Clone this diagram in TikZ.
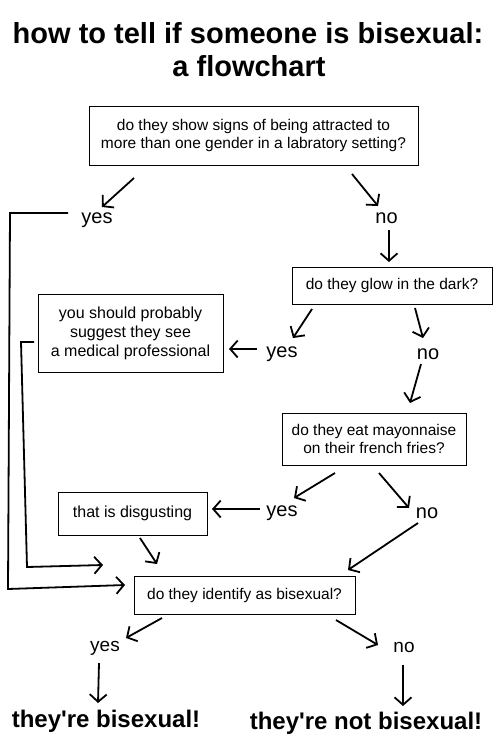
\documentclass[tikz,border=0pt]{standalone}
\usepackage{fontspec}
\setmainfont{Liberation Sans}[Ligatures=TeXOff]
\usetikzlibrary{arrows.meta}
\begin{document}
\begin{tikzpicture}[x=1pt,y=-1pt,
  box/.style={draw, line width=1pt, inner sep=0pt, align=center, font=\fontsize{15.5}{18}\selectfont},
  lbl/.style={font=\fontsize{20}{24}\selectfont, anchor=base, inner sep=0pt},
  ttl/.style={font=\fontsize{29}{33}\selectfont\bfseries, anchor=base, inner sep=0pt},
  fin/.style={font=\fontsize{24}{28}\selectfont\bfseries, anchor=base, inner sep=0pt},
  arr/.style={line width=1.8pt, -{Straight Barb[length=7.5pt,width=17pt]}},
  loop/.style={line width=1.8pt, -{Straight Barb[length=7.5pt,width=17pt]}}]
\useasboundingbox (0,0) rectangle (500,750);
\fill[white] (0,0) rectangle (500,750);
% title
\node[ttl] (t1) at (248,43) {how to tell if someone is bisexual:};
\node[ttl] (t2) at (249,76) {a flowchart};
% boxes
\node[box, minimum width=329pt, minimum height=59pt] (b1) at (253.5,135.5)
  {do they show signs of being attracted to\\more than one gender in a labratory setting?};
\node[box, minimum width=200pt, minimum height=37pt] (b2) at (392,285.5) {do they glow in the dark?};
\node[box, minimum width=185pt, minimum height=78pt, font=\fontsize{16}{19}\selectfont] (b3) at (130.5,333)
  {you should probably\\suggest they see\\a medical professional};
\node[box, minimum width=184pt, minimum height=52pt, font=\fontsize{15.5}{17.5}\selectfont] (b4) at (374,439)
  {do they eat mayonnaise\\on their french fries?};
\node[box, minimum width=149pt, minimum height=43pt, font=\fontsize{16}{19}\selectfont] (b5) at (132.5,513.5) {that is disgusting};
\node[box, minimum width=221pt, minimum height=38pt] (b6) at (244.5,595) {do they identify as bisexual?};
% labels
\node[lbl] (y1) at (97,223) {yes};
\node[lbl] (n1) at (386.5,223) {no};
\node[lbl] (y2) at (282,357) {yes};
\node[lbl] (n2) at (428,359) {no};
\node[lbl] (y3) at (282,516) {yes};
\node[lbl] (n3) at (427,518) {no};
\node[lbl, font=\fontsize{19}{23}\selectfont] (y4) at (105,651) {yes};
\node[lbl, font=\fontsize{19}{23}\selectfont] (n4) at (404,652) {no};
\node[fin] (f1) at (106,727) {they're bisexual!};
\node[fin] (f2) at (366,729) {they're not bisexual!};
% connector coordinates
\coordinate (a1s) at (134,178); \coordinate (a1e) at (102,207);
\coordinate (a2s) at (352,174); \coordinate (a2e) at (378,206);
\coordinate (a3s) at (389,230); \coordinate (a3e) at (389,262);
\coordinate (a4s) at (312,309); \coordinate (a4e) at (293,338);
\coordinate (a5s) at (257,349); \coordinate (a5e) at (229,349);
\coordinate (a6s) at (415,308); \coordinate (a6e) at (423,338);
\coordinate (a7s) at (421,364); \coordinate (a7e) at (410,403);
\coordinate (a8s) at (335,473); \coordinate (a8e) at (294,498);
\coordinate (a9s) at (260,509); \coordinate (a9e) at (212,509);
\coordinate (a10s) at (140,538); \coordinate (a10e) at (157,564);
\coordinate (a11s) at (379,473); \coordinate (a11e) at (409,508);
\coordinate (a12s) at (418,523); \coordinate (a12e) at (348,570);
\coordinate (a13s) at (162,618); \coordinate (a13e) at (126,638);
\coordinate (a14s) at (99,663); \coordinate (a14e) at (98,703);
\coordinate (a15s) at (336,620); \coordinate (a15e) at (378,645);
\coordinate (a16s) at (403,665); \coordinate (a16e) at (403,706);
\coordinate (l1a) at (68,213); \coordinate (l1b) at (10,213); \coordinate (l1c) at (8,589); \coordinate (l1d) at (125,585);
\coordinate (l2a) at (34,342); \coordinate (l2b) at (21,342); \coordinate (l2c) at (27,567); \coordinate (l2d) at (103,565);
% connectors
\foreach \i in {1,...,16} \draw[arr] (a\i s) -- (a\i e);
\draw[loop] (l1a) -- (l1b) -- (l1c) -- (l1d);
\draw[loop] (l2a) -- (l2b) -- (l2c) -- (l2d);
\end{tikzpicture}
\end{document}
